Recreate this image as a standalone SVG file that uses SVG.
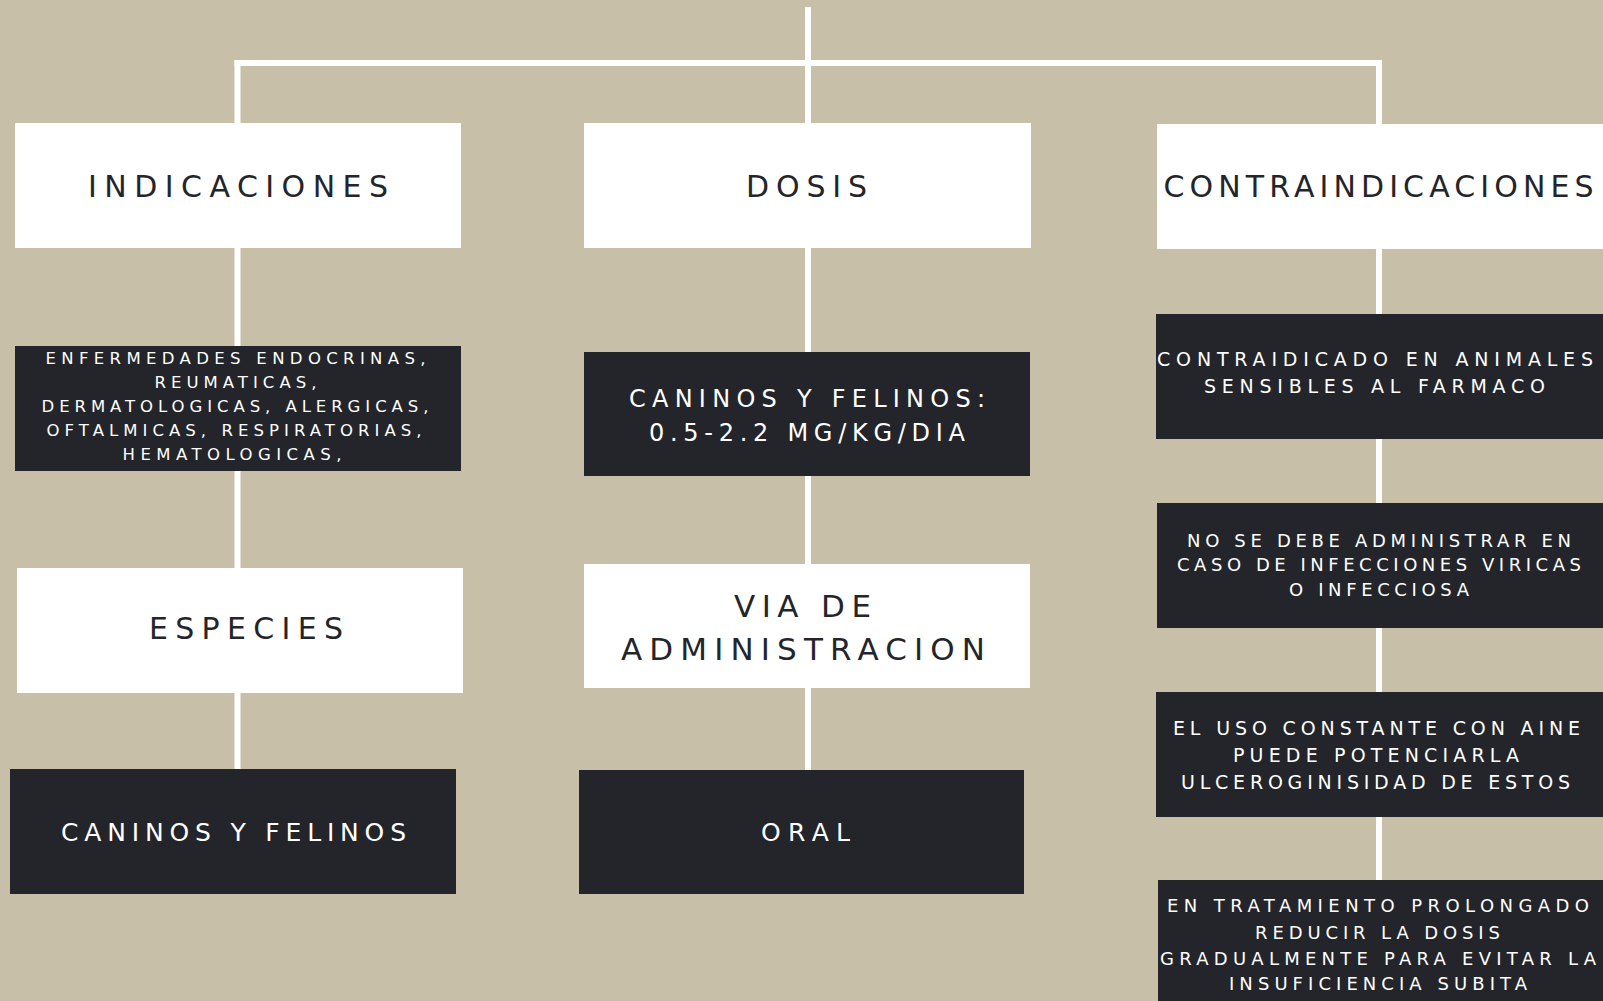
<svg xmlns="http://www.w3.org/2000/svg" width="1603" height="1001" viewBox="0 0 1603 1001">
<style>
.w{fill:#ffffff}
.d{fill:#24252a}
.t{font-family:"DejaVu Sans","Liberation Sans",sans-serif;text-anchor:middle;}
.tk{fill:#24252a}
.tw{fill:#ffffff}
.c{stroke:#ffffff;stroke-width:6;fill:none}
</style>
<rect width="1603" height="1001" fill="#c7bfa8"/>
<g id="connectors">
<line class="c" x1="808" y1="7" x2="808" y2="770"/>
<line class="c" x1="234.5" y1="63" x2="1382" y2="63"/>
<line class="c" x1="237.5" y1="60" x2="237.5" y2="769"/>
<line class="c" x1="1379" y1="60" x2="1379" y2="880"/>
</g>
<g id="indicaciones">
<rect class="w" x="15" y="123" width="446" height="125"/>
<text class="t tk" x="238" y="197" font-size="30" textLength="300" lengthAdjust="spacing">INDICACIONES</text>
</g>
<g id="dosis">
<rect class="w" x="584" y="123" width="447" height="125"/>
<text class="t tk" x="806.5" y="197" font-size="30" textLength="121" lengthAdjust="spacing">DOSIS</text>
</g>
<g id="contraindicaciones">
<rect class="w" x="1157" y="124" width="446" height="125"/>
<text class="t tk" x="1378.5" y="197" font-size="30" textLength="430" lengthAdjust="spacing">CONTRAINDICACIONES</text>
</g>
<g id="enfermedades">
<rect class="d" x="15" y="346" width="446" height="125"/>
<g class="t tw" font-size="16.5">
<text x="235.5" y="364" textLength="380" lengthAdjust="spacing">ENFERMEDADES ENDOCRINAS,</text>
<text x="235.5" y="388" textLength="162" lengthAdjust="spacing">REUMATICAS,</text>
<text x="235" y="412" textLength="387" lengthAdjust="spacing">DERMATOLOGICAS, ALERGICAS,</text>
<text x="234" y="436" textLength="375" lengthAdjust="spacing">OFTALMICAS, RESPIRATORIAS,</text>
<text x="232" y="460" textLength="219" lengthAdjust="spacing">HEMATOLOGICAS,</text>
</g>
</g>
<g id="dosis-valor">
<rect class="d" x="584" y="352" width="446" height="124"/>
<g class="t tw" font-size="24">
<text x="807" y="407" textLength="356" lengthAdjust="spacing">CANINOS Y FELINOS:</text>
<text x="807" y="441" textLength="316" lengthAdjust="spacing">0.5-2.2 MG/KG/DIA</text>
</g>
</g>
<g id="especies">
<rect class="w" x="17" y="568" width="446" height="125"/>
<text class="t tk" x="246" y="639" font-size="30" textLength="194" lengthAdjust="spacing">ESPECIES</text>
</g>
<g id="via">
<rect class="w" x="584" y="564" width="446" height="124"/>
<g class="t tk" font-size="31">
<text x="802.5" y="617" textLength="137" lengthAdjust="spacing">VIA DE</text>
<text x="803" y="660" textLength="364" lengthAdjust="spacing">ADMINISTRACION</text>
</g>
</g>
<g id="caninos-felinos">
<rect class="d" x="10" y="769" width="446" height="125"/>
<text class="t tw" x="233.5" y="841" font-size="25" textLength="345" lengthAdjust="spacing">CANINOS Y FELINOS</text>
</g>
<g id="oral">
<rect class="d" x="579" y="770" width="445" height="124"/>
<text class="t tw" x="805.5" y="841" font-size="25" textLength="89" lengthAdjust="spacing">ORAL</text>
</g>
<g id="contra1">
<rect class="d" x="1156" y="314" width="447" height="125"/>
<g class="t tw" font-size="19">
<text x="1375" y="366" textLength="436" lengthAdjust="spacing">CONTRAIDICADO EN ANIMALES</text>
<text x="1374.5" y="393" textLength="341" lengthAdjust="spacing">SENSIBLES AL FARMACO</text>
</g>
</g>
<g id="contra2">
<rect class="d" x="1157" y="503" width="446" height="125"/>
<g class="t tw" font-size="18">
<text x="1379" y="547" textLength="384" lengthAdjust="spacing">NO SE DEBE ADMINISTRAR EN</text>
<text x="1379" y="571" textLength="404" lengthAdjust="spacing">CASO DE INFECCIONES VIRICAS</text>
<text x="1379" y="596" textLength="180" lengthAdjust="spacing">O INFECCIOSA</text>
</g>
</g>
<g id="contra3">
<rect class="d" x="1156" y="692" width="447" height="125"/>
<g class="t tw" font-size="19">
<text x="1376.5" y="735" textLength="407" lengthAdjust="spacing">EL USO CONSTANTE CON AINE</text>
<text x="1376" y="762" textLength="286" lengthAdjust="spacing">PUEDE POTENCIARLA</text>
<text x="1375.5" y="789" textLength="389" lengthAdjust="spacing">ULCEROGINISIDAD DE ESTOS</text>
</g>
</g>
<g id="contra4">
<rect class="d" x="1158" y="880" width="445" height="125"/>
<g class="t tw" font-size="18">
<text x="1378" y="912" textLength="422" lengthAdjust="spacing">EN TRATAMIENTO PROLONGADO</text>
<text x="1377.5" y="939" textLength="245" lengthAdjust="spacing">REDUCIR LA DOSIS</text>
<text x="1378" y="965" textLength="436" lengthAdjust="spacing">GRADUALMENTE PARA EVITAR LA</text>
<text x="1378" y="990" textLength="298" lengthAdjust="spacing">INSUFICIENCIA SUBITA</text>
</g>
</g>
</svg>
